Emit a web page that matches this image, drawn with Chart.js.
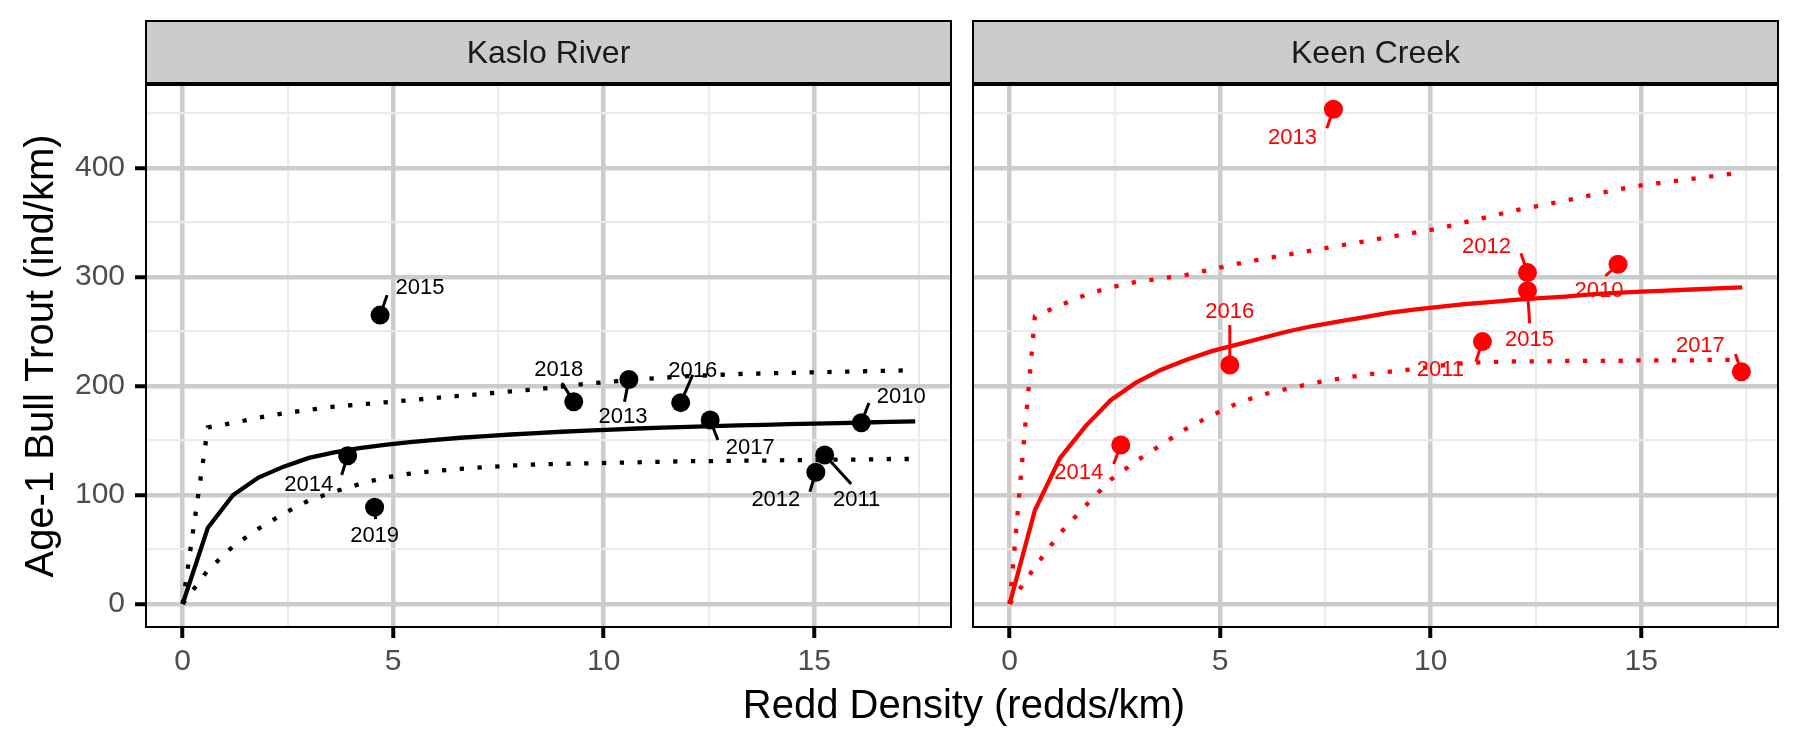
<!DOCTYPE html>
<html>
<head>
<meta charset="utf-8">
<title>Age-1 Bull Trout vs Redd Density</title>
<script src="https://cdn.jsdelivr.net/npm/chart.js@4.4.0/dist/chart.umd.min.js"></script>
<style>
  html, body { margin: 0; padding: 0; background: #fff; }
  #wrap { position: relative; width: 1800px; height: 750px; overflow: hidden; background: #fff; }
  #kaslo { position: absolute; left: 0; top: 0; }
  #keen { position: absolute; left: 962px; top: 0; }
  #xtitle {
    position: absolute; left: 0; width: 1928px; top: 684px;
    text-align: center; color: #000;
    font: 40px "Liberation Sans", Arial, Helvetica, sans-serif; line-height: 40px;
  }
</style>
</head>
<body>
<div id="wrap">
  <canvas id="kaslo" width="962" height="750"></canvas>
  <canvas id="keen" width="838" height="750"></canvas>
  <div id="xtitle">Redd Density (redds/km)</div>
</div>
<script>
// Age-1 Bull Trout density vs redd density, one panel per stream

// redd density where the fitted curves were evaluated
const fitX = [0, 0.6, 1.2, 1.8, 2.4, 3.0, 3.6, 4.2, 4.8, 5.4, 6.0, 6.6, 7.2, 7.8, 8.4,
              9.0, 9.6, 10.2, 10.8, 11.4, 12.0, 12.6, 13.2, 13.8, 14.4, 15.0, 15.6, 16.2, 16.8, 17.4];

// Kaslo River: fit and dotted bounds
const kasloFit = [0, 70, 100, 116, 126, 134, 139, 143, 146, 148.5, 150.5, 152.5, 154, 155.5, 156.8,
                  158, 159, 160, 161, 161.8, 162.5, 163.2, 163.8, 164.4, 165, 165.5, 166, 166.5, 167, 167.5];
const kasloUpper = [0, 162, 166, 171, 175, 178, 181, 183, 185, 187, 189, 191, 193, 195, 197,
                    199.5, 202, 204, 206, 207.5, 209, 210, 211, 211.5, 212, 212.5, 213, 213.5, 214, 214.5];
const kasloLower = [0, 31, 53, 69, 83, 95, 103, 110, 116, 119.5, 122, 124, 125.5, 127, 128,
                    128.5, 129, 129.5, 130, 130.5, 131, 131, 131.5, 131.5, 132, 132, 132.5, 132.5, 133, 133];

// Keen Creek: fit and dotted bounds
const keenFit = [0, 86, 134, 163, 187, 203, 215, 224, 232, 238, 244, 250, 255, 259, 263,
                 267, 270, 272.5, 275, 277, 279, 280.5, 282, 284, 285.5, 286.5, 287.5, 288.5, 289.5, 290.5];
const keenUpper = [0, 264, 274, 283.5, 290.5, 295.5, 298.5, 302, 307, 312, 316.5, 320.5, 324.5, 328.5, 332.5,
                   336.5, 340.5, 344.5, 350, 355.5, 361, 365.5, 370, 375, 380, 384, 387, 390, 393, 396];
const keenLower = [0, 34, 65, 90, 114, 131, 146, 161, 173, 184, 192, 197.5, 202.5, 206.5, 210,
                   213, 215.5, 218.5, 221, 222, 222.5, 222.5, 223, 223, 223, 223.5, 223.5, 223.5, 224, 224];

// observed years
const kasloYears = [2010, 2011, 2012, 2013, 2014, 2015, 2016, 2017, 2018, 2019];
const kasloRedds = [16.12, 15.25, 15.04, 10.6, 3.92, 4.69, 11.83, 12.53, 9.29, 4.56];
const kasloAge1 = [166.3, 136.7, 120.8, 206, 136, 265, 184.7, 168.8, 185.6, 88.7];

const keenYears = [2010, 2011, 2012, 2013, 2014, 2015, 2016, 2017];
const keenRedds = [14.45, 11.23, 12.3, 7.69, 2.64, 12.3, 5.23, 17.38];
const keenAge1 = [311.6, 240.7, 304, 453.8, 145.9, 287.4, 219.3, 213.1];

// axis breaks
const xMajor = [0, 5, 10, 15];
const xMinor = [2.5, 7.5, 12.5, 17.5];
const yMajor = [0, 100, 200, 300, 400];
const yMinor = [50, 150, 250, 350, 450];

// ---- layout / style ----
const FONT = '"Liberation Sans", Arial, Helvetica, sans-serif';
const X_RANGE = [-0.87, 18.25];
const Y_RANGE = [-21.1, 476.1];
const STRIP_TOP = 21;
const PANEL_TOP = 85;
const PANEL_BOTTOM = 627;
const LINE_W = 4.3;
const DOTS = [4.3, 13.5];

// label placement in px from each point (same order as the years):
// where the text sits, and where its leader segment stops
const kasloLabelOffsets = [[40, -26], [32, 45], [-40, 28], [-6, 38], [-39, 29],
                           [40, -27], [12, -32], [40, 28], [-15, -32], [0, 29]];
const kasloSegmentEnds = [[7.6, -19.7], [26.5, 29], [-6, 19.4], [-4.4, 22.3], [-6, 19.3],
                          [7, -20], [12, -27.7], [7.7, 20], [-11.8, -18.7], [1, 11.7]];
const keenLabelOffsets = [[-19, 27], [-42, 28], [-41, -26], [-41, 29],
                          [-42, 28], [2, 49], [0, -53], [-41, -26]];
const keenSegmentEnds = [[-12.6, 11.7], [-6.6, 20], [-6.6, -19.3], [-6.6, 19],
                         [-7.1, 19], [2.2, 32.7], [0, -40], [-6, -17.7]];

function toPoints(xs, ys) {
    return xs.map((x, i) => ({ x: x, y: ys[i] }));
}

function byValue(a, b) { return a - b; }

// strip on top + black panel border
const facetPanel = {
    id: 'facetPanel',
    afterDraw(chart, args, opts) {
        const { ctx, chartArea: a } = chart;
        const w = a.right - a.left;
        ctx.save();
        ctx.fillStyle = '#cccccc';
        ctx.fillRect(a.left, STRIP_TOP, w, a.top - STRIP_TOP);
        ctx.strokeStyle = '#000';
        ctx.lineWidth = 2;
        ctx.strokeRect(a.left, STRIP_TOP, w, a.top - STRIP_TOP);
        ctx.fillStyle = '#000';
        ctx.fillRect(a.left - 1, a.top - 3, w + 2, 4);

        ctx.fillStyle = '#1a1a1a';
        ctx.font = '32px ' + FONT;
        ctx.textAlign = 'center';
        ctx.textBaseline = 'middle';
        ctx.fillText(opts.label, (a.left + a.right) / 2, (STRIP_TOP + a.top) / 2 + 1);

        ctx.strokeRect(a.left, a.top, w, a.bottom - a.top);
        ctx.restore();
    }
};

// year labels with leader segments, placed like ggrepel did
const repelLabels = {
    id: 'repelLabels',
    afterDatasetsDraw(chart, args, opts) {
        const meta = chart.getDatasetMeta(opts.datasetIndex);
        const ctx = chart.ctx;
        ctx.save();
        ctx.font = '22px ' + FONT;
        ctx.textAlign = 'center';
        ctx.textBaseline = 'middle';
        ctx.strokeStyle = opts.color;
        ctx.fillStyle = opts.color;
        ctx.lineWidth = 3;

        meta.data.forEach((pt, i) => {
            const [ex, ey] = opts.segments[i];
            ctx.beginPath();
            ctx.moveTo(pt.x, pt.y);
            ctx.lineTo(pt.x + ex, pt.y + ey);
            ctx.stroke();
        });
        meta.data.forEach((pt, i) => {
            const [dx, dy] = opts.offsets[i];
            ctx.fillText(String(opts.labels[i]), pt.x + dx, pt.y + dy);
        });
        ctx.restore();
    }
};

function gridOpts(major, withTicks) {
    return {
        color: c => major.includes(c.tick.value) ? '#cccccc' : '#ebebeb',
        lineWidth: c => major.includes(c.tick.value) ? 4.5 : 2.2,
        drawTicks: withTicks,
        tickLength: 11,
        tickWidth: 4,
        tickColor: c => major.includes(c.tick.value) ? '#000' : 'rgba(0,0,0,0)'
    };
}

function xScale() {
    return {
        type: 'linear',
        min: X_RANGE[0],
        max: X_RANGE[1],
        afterBuildTicks: axis => {
            axis.ticks = xMajor.concat(xMinor).sort(byValue).map(v => ({ value: v }));
        },
        afterFit: axis => { axis.height = 750 - PANEL_BOTTOM; },
        border: { display: false },
        grid: gridOpts(xMajor, true),
        ticks: {
            autoSkip: false,
            maxRotation: 0,
            padding: 6,
            color: '#4d4d4d',
            font: { family: FONT, size: 30 },
            callback: v => xMajor.includes(v) ? String(v) : ''
        }
    };
}

function yScale(showAxis) {
    const s = {
        type: 'linear',
        min: Y_RANGE[0],
        max: Y_RANGE[1],
        afterBuildTicks: axis => {
            axis.ticks = yMajor.concat(yMinor).sort(byValue).map(v => ({ value: v }));
        },
        afterFit: axis => { axis.width = showAxis ? 146 : 0; },
        border: { display: false },
        grid: gridOpts(yMajor, showAxis),
        ticks: {
            display: showAxis,
            autoSkip: false,
            padding: 10,
            color: '#4d4d4d',
            font: { family: FONT, size: 30 },
            callback: v => yMajor.includes(v) ? String(v) : ''
        }
    };
    if (showAxis) {
        s.title = {
            display: true,
            text: 'Age-1 Bull Trout (ind/km)',
            color: '#000',
            font: { family: FONT, size: 40 },
            padding: { top: 18, bottom: 0 }
        };
    }
    return s;
}

function curve(ys, color, dotted) {
    return {
        data: toPoints(fitX, ys),
        showLine: true,
        borderColor: color,
        borderWidth: LINE_W,
        borderDash: dotted ? DOTS : [],
        borderCapStyle: 'butt',
        pointRadius: 0,
        tension: 0
    };
}

function makePanel(canvasId, cfg) {
    return new Chart(document.getElementById(canvasId).getContext('2d'), {
        type: 'scatter',
        data: {
            datasets: [
                curve(cfg.upper, cfg.color, true),
                curve(cfg.lower, cfg.color, true),
                curve(cfg.fit, cfg.color, false),
                {
                    data: toPoints(cfg.redds, cfg.age1),
                    showLine: false,
                    pointRadius: 9.5,
                    pointBackgroundColor: cfg.color,
                    pointBorderWidth: 0
                }
            ]
        },
        options: {
            responsive: false,
            animation: false,
            events: [],
            layout: { padding: cfg.padding },
            scales: { x: xScale(), y: yScale(cfg.showY) },
            plugins: {
                legend: { display: false },
                tooltip: { enabled: false },
                facetPanel: { label: cfg.label },
                repelLabels: {
                    datasetIndex: 3,
                    labels: cfg.years,
                    offsets: cfg.offsets,
                    segments: cfg.segments,
                    color: cfg.color
                }
            }
        },
        plugins: [repelLabels, facetPanel]
    });
}

makePanel('kaslo', {
    label: 'Kaslo River',
    color: '#000000',
    fit: kasloFit, upper: kasloUpper, lower: kasloLower,
    years: kasloYears, redds: kasloRedds, age1: kasloAge1,
    offsets: kasloLabelOffsets,
    segments: kasloSegmentEnds,
    showY: true,
    padding: { top: PANEL_TOP, right: 11, left: 0, bottom: 0 }
});

makePanel('keen', {
    label: 'Keen Creek',
    color: '#ff0000',
    fit: keenFit, upper: keenUpper, lower: keenLower,
    years: keenYears, redds: keenRedds, age1: keenAge1,
    offsets: keenLabelOffsets,
    segments: keenSegmentEnds,
    showY: false,
    padding: { top: PANEL_TOP, right: 22, left: 11, bottom: 0 }
});
</script>
</body>
</html>
